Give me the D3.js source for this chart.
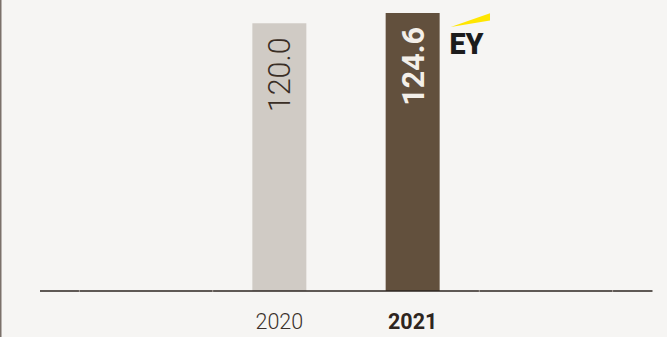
<!DOCTYPE html>
<html>
<head>
<meta charset="utf-8">
<script src="https://cdn.jsdelivr.net/npm/d3@7"></script>
<style>
  html, body { margin: 0; padding: 0; background: #f6f5f3; }
  svg { display: block; }
</style>
</head>
<body>
<svg id="chart" width="667" height="337"></svg>
<script>
// Data
const years = ["2020", "2021"];
const values = [120.0, 124.6];
const valueLabels = ["120.0", "124.6"];
const highlightYear = "2021";

const W = 667, H = 337;
const svg = d3.select("#chart");

svg.append("rect").attr("width", W).attr("height", H).attr("fill", "#f6f5f3");

// left frame rule
svg.append("line")
  .attr("x1", 0.75).attr("x2", 0.75).attr("y1", 0).attr("y2", H)
  .attr("stroke", "#7b716a").attr("stroke-width", 1.5);

const baseY = 291;
const axisLeft = 40, axisRight = 652.5;

const x = d3.scaleBand()
  .domain(years)
  .range([212.7, 479.3])
  .paddingInner(0.595)
  .paddingOuter(0.2975);

const y = d3.scaleLinear().domain([0, 124.6]).range([baseY, 13]);

const colour = d => d === highlightYear ? "#62503d" : "#d0cbc5";

// bars
svg.selectAll("rect.bar")
  .data(years)
  .join("rect")
  .attr("class", "bar")
  .attr("x", d => x(d))
  .attr("width", x.bandwidth())
  .attr("y", (d, i) => y(values[i]))
  .attr("height", (d, i) => y(0) - y(values[i]))
  .attr("fill", colour);

// baseline
svg.append("line")
  .attr("x1", axisLeft).attr("x2", axisRight)
  .attr("y1", baseY).attr("y2", baseY)
  .attr("stroke", "#2d2520").attr("stroke-width", 1.6);

// faint separators at slot edges outside the pair of bars
const step = x.step();
const [r0, r1] = x.range();
const seps = [];
for (let k = -2; k <= 4; k++) {
  const sx = r0 + k * step;
  const inner = sx > r0 + 1 && sx < r1 - 1;
  if (!inner && sx > axisLeft + 2 && sx < axisRight - 2) seps.push(sx);
}
svg.selectAll("line.sep")
  .data(seps)
  .join("line")
  .attr("class", "sep")
  .attr("x1", d => d).attr("x2", d => d)
  .attr("y1", baseY - 1).attr("y2", baseY + 1)
  .attr("stroke", "#a69d96").attr("stroke-width", 1);

// value labels, rotated inside bars
svg.selectAll("text.val")
  .data(years)
  .join("text")
  .attr("class", "val")
  .attr("transform", (d, i) =>
    `translate(${x(d) + x.bandwidth() / 2},${y(values[i]) + 14}) rotate(-90)`)
  .attr("dy", "0.36em")
  .attr("text-anchor", "end")
  .attr("font-family", "Roboto, 'Liberation Sans', sans-serif")
  .attr("font-size", 30.5)
  .attr("font-weight", d => d === highlightYear ? 700 : 300)
  .attr("fill", d => d === highlightYear ? "#f3efe9" : "#3a2e26")
  .text((d, i) => valueLabels[i]);

// year labels
svg.selectAll("text.year")
  .data(years)
  .join("text")
  .attr("class", "year")
  .attr("x", d => x(d) + x.bandwidth() / 2)
  .attr("y", 329)
  .attr("text-anchor", "middle")
  .attr("font-family", "Roboto, 'Liberation Sans', sans-serif")
  .attr("font-size", 21.5)
  .attr("font-weight", d => d === highlightYear ? 700 : 300)
  .attr("fill", d => d === highlightYear ? "#2e2520" : "#3a302a")
  .text(d => d);

// EY mark
const logo = svg.append("g");
logo.append("polygon")
  .attr("points", "450.7,27 490,13.3 490,20.5")
  .attr("fill", "#ffe600");
logo.append("text")
  .attr("x", 449.5)
  .attr("y", 54)
  .attr("font-family", "Roboto, 'Liberation Sans', sans-serif")
  .attr("font-size", 29)
  .attr("font-weight", 900)
  .attr("fill", "#1c1c1c")
  .attr("textLength", 34)
  .attr("lengthAdjust", "spacingAndGlyphs")
  .text("EY");
</script>
</body>
</html>
